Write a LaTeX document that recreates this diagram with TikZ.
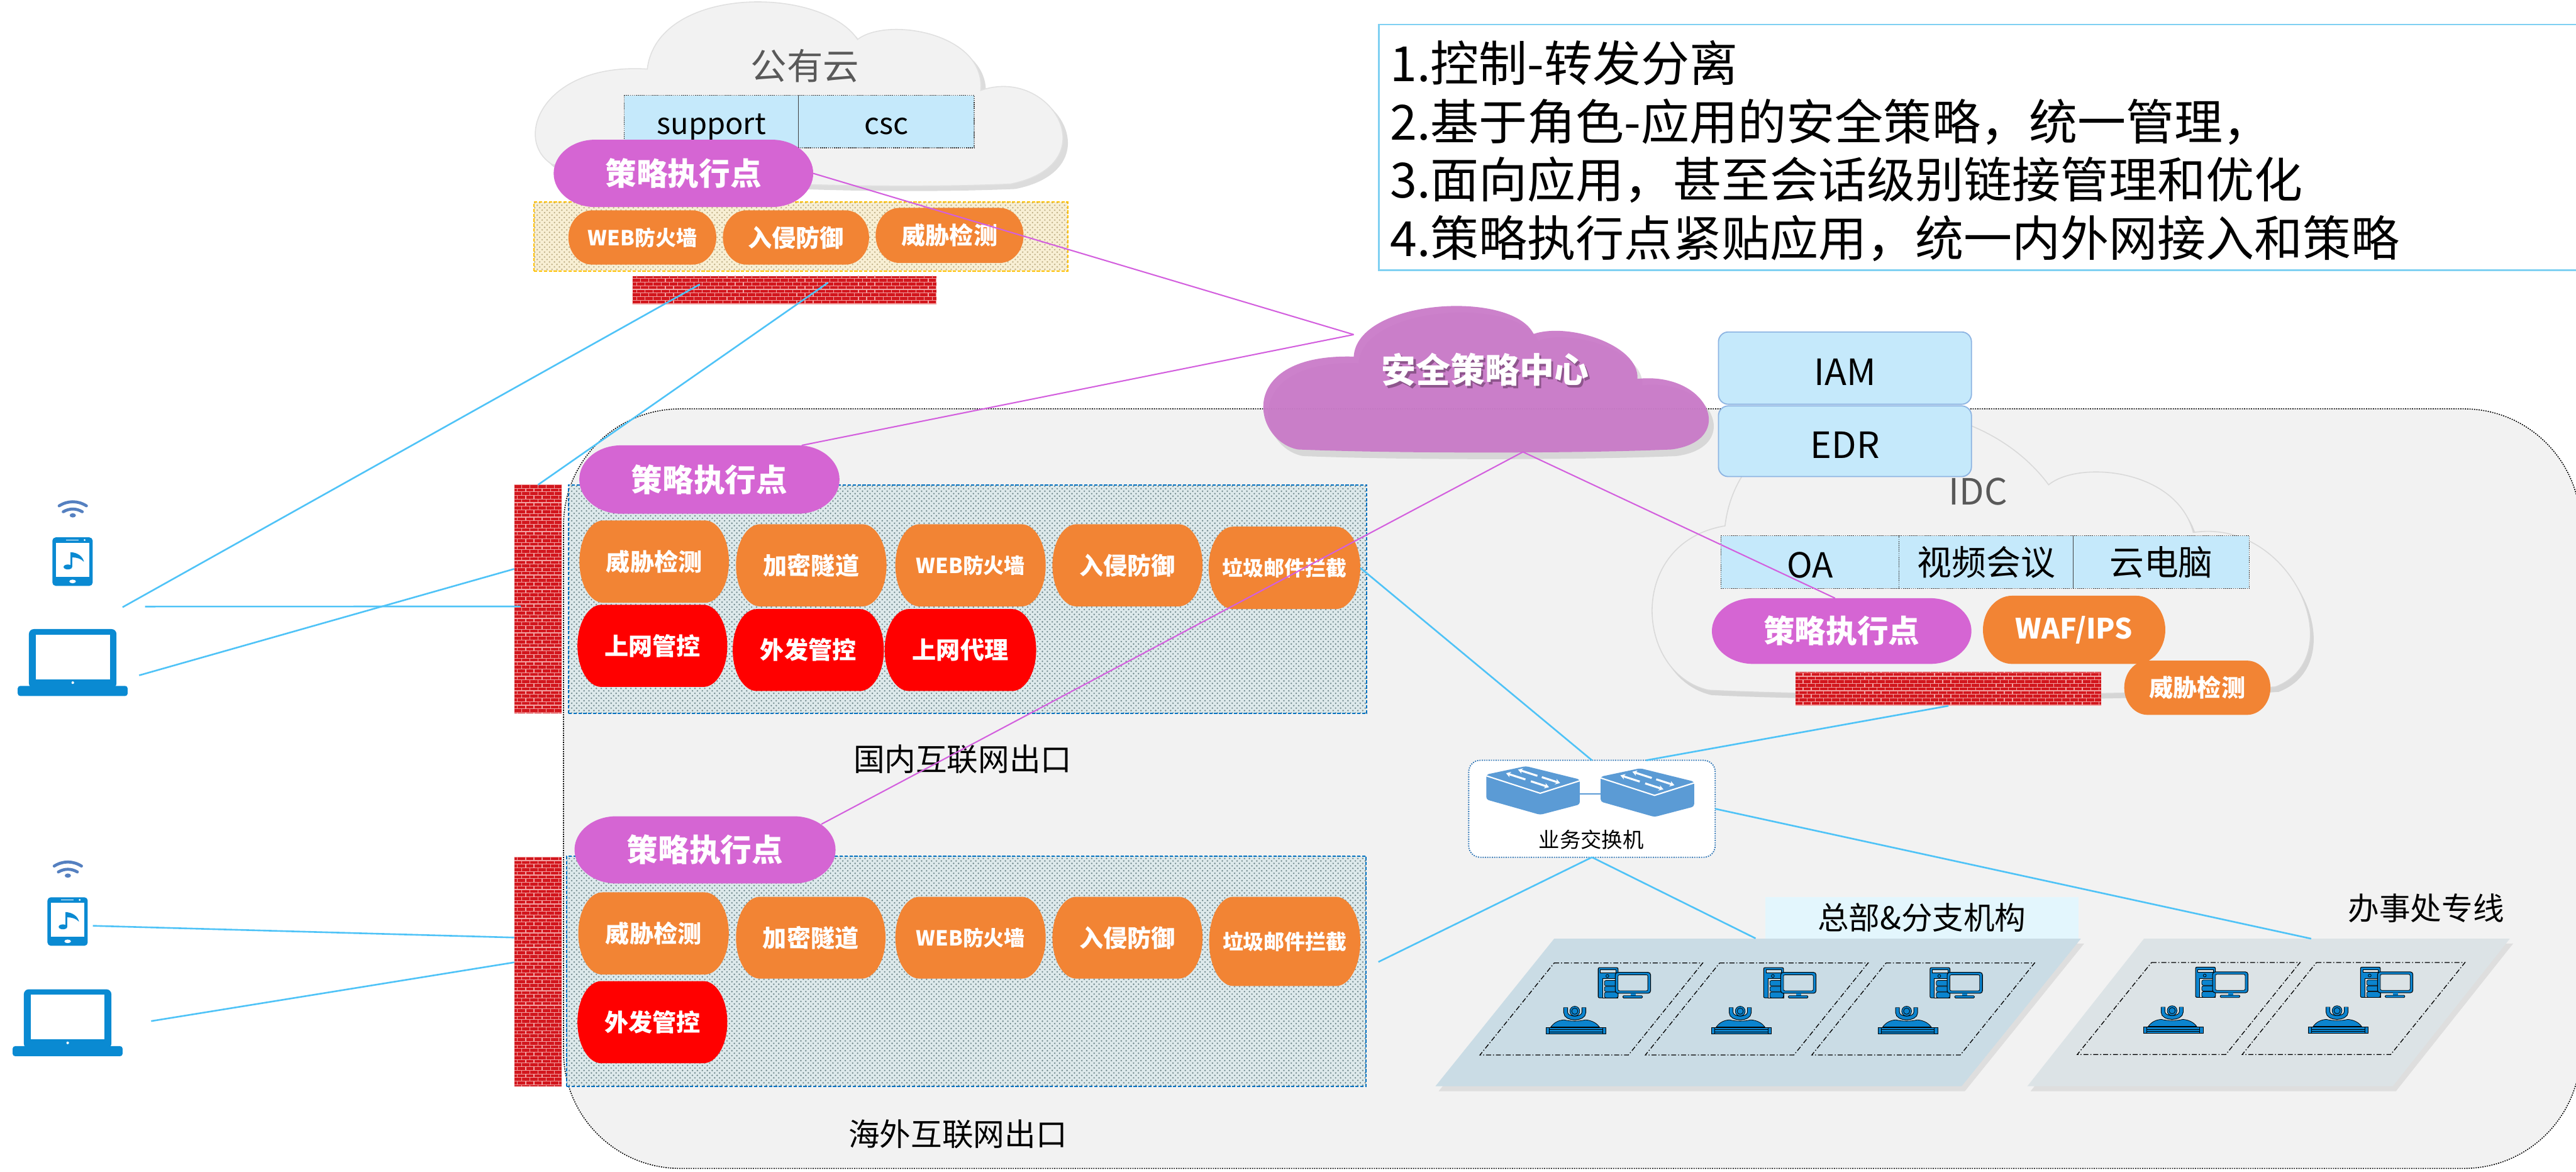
\documentclass[tikz,border=0pt]{standalone}
\usepackage{fontspec}
\setmainfont{Noto Sans CJK SC}
\usetikzlibrary{arrows.meta,patterns,calc}

% small brick texture for the firewalls
\pgfdeclarepatternformonly{smallbricks}{\pgfpoint{-0.5pt}{-0.5pt}}{\pgfpoint{5.5pt}{5pt}}{\pgfpoint{5pt}{4.4pt}}{%
  \pgfsetlinewidth{0.45pt}%
  \pgfpathmoveto{\pgfpoint{0pt}{0pt}}\pgfpathlineto{\pgfpoint{5pt}{0pt}}%
  \pgfpathmoveto{\pgfpoint{0pt}{2.2pt}}\pgfpathlineto{\pgfpoint{5pt}{2.2pt}}%
  \pgfpathmoveto{\pgfpoint{0pt}{0pt}}\pgfpathlineto{\pgfpoint{0pt}{2.2pt}}%
  \pgfpathmoveto{\pgfpoint{2.5pt}{2.2pt}}\pgfpathlineto{\pgfpoint{2.5pt}{4.4pt}}%
  \pgfusepath{stroke}}

\definecolor{regionfill}{HTML}{F2F2F2}
\definecolor{cloudfill}{HTML}{F2F2F2}
\definecolor{pepc}{HTML}{D565D3}
\definecolor{orgc}{HTML}{F28434}
\definecolor{redc}{HTML}{FF0000}
\definecolor{secc}{HTML}{C97AC8}
\definecolor{lblue}{HTML}{C5E9FB}
\definecolor{iamedge}{HTML}{8DB4E2}
\definecolor{linkb}{HTML}{4FC3F7}
\definecolor{linkp}{HTML}{D35FDE}
\definecolor{devb}{HTML}{0A8AD2}
\definecolor{wifib}{HTML}{5580C0}
\definecolor{swb}{HTML}{5B9BD5}
\definecolor{pcb}{HTML}{0B84CF}
\definecolor{brickc}{HTML}{D2161D}
\definecolor{mortar}{HTML}{F2A1A1}
\definecolor{hqfill}{HTML}{CADCE5}
\definecolor{offfill}{HTML}{DCE3E6}
\definecolor{hqlabel}{HTML}{E3F6FD}
\definecolor{exitfill}{HTML}{DDE9EB}
\definecolor{exitdot}{HTML}{6F878B}
\definecolor{exitedge}{HTML}{0070C0}
\definecolor{yelfill}{HTML}{F8EFD4}
\definecolor{yeldot}{HTML}{BDAE84}
\definecolor{yeledge}{HTML}{FFC000}
\definecolor{notebox}{HTML}{7FD0F2}
\definecolor{labelgray}{HTML}{595959}
\definecolor{swedge}{HTML}{2E75B6}

% terminator-shaped box with a named node on top of it
\newcommand\pillbox[8]{%
  \pgfmathsetmacro\qqa{#3}\pgfmathsetmacro\qqb{#4}%
  \pgfmathsetmacro\qqc{#5}\pgfmathsetmacro\qqd{#6}%
  \pgfmathsetmacro\qqrx{0.16*(\qqc-\qqa)}%
  \pgfmathsetmacro\qqry{(\qqd-\qqb)/2}%
  \pgfmathsetmacro\qqym{(\qqb+\qqd)/2}%
  \pgfmathsetmacro\qqxm{(\qqa+\qqc)/2}%
  \pgfmathsetmacro\qqxl{\qqa+\qqrx}%
  \pgfmathsetmacro\qqxr{\qqc-\qqrx}%
  \pgfmathsetmacro\qqkx{0.5523*\qqrx}%
  \pgfmathsetmacro\qqky{0.5523*\qqry}%
  \pgfmathsetmacro\qqw{\qqc-\qqa}%
  \pgfmathsetmacro\qqh{\qqd-\qqb}%
  \fill[#2] (\qqxl,\qqb) -- (\qqxr,\qqb)
    .. controls (\qqxr+\qqkx,\qqb) and (\qqc,\qqym-\qqky) .. (\qqc,\qqym)
    .. controls (\qqc,\qqym+\qqky) and (\qqxr+\qqkx,\qqd) .. (\qqxr,\qqd)
    -- (\qqxl,\qqd)
    .. controls (\qqxl-\qqkx,\qqd) and (\qqa,\qqym+\qqky) .. (\qqa,\qqym)
    .. controls (\qqa,\qqym-\qqky) and (\qqxl-\qqkx,\qqb) .. (\qqxl,\qqb) -- cycle;
  \node[#7, minimum width=\qqw pt, minimum height=\qqh pt, inner sep=0pt, outer sep=0pt] (#1) at (\qqxm,\qqym) {#8};%
}

% cloud outlines
\def\pubcloud{(336,100) .. controls (312,85) and (330,38) .. (394,42)
  .. controls (400,-9) and (500,-9) .. (522,24)
  .. controls (540,10) and (600,20) .. (597,55)
  .. controls (640,40) and (675,100) .. (615,112)
  .. controls (520,116) and (400,110) .. (336,100) -- cycle}
\def\seccloud{(790,273.5) .. controls (762,268) and (752,215) .. (824,217)
  .. controls (826,182) and (920,176) .. (933.5,203.2)
  .. controls (955,196) and (998,210) .. (996.7,230.5)
  .. controls (1040,226) and (1058,268) .. (1017.5,273.5)
  .. controls (960,276) and (850,276) .. (790,273.5) -- cycle}
\def\idccloud{(1040,420) .. controls (995,410) and (990,330) .. (1050,320)
  .. controls (1060,235) and (1195,225) .. (1247,295)
  .. controls (1265,280) and (1325,285) .. (1335,324)
  .. controls (1395,315) and (1432,400) .. (1385,418)
  .. controls (1300,424) and (1120,424) .. (1040,420) -- cycle}

\tikzset{
  pepfill/.style={fill=pepc},
  orgfill/.style={fill=orgc},
  redfill/.style={fill=redc},
  peptxt/.style={text=white, font=\fontsize{19}{22}\selectfont\bfseries},
  orgtxt/.style={text=white, font=\fontsize{14.6}{17}\selectfont\bfseries},
  orgsmall/.style={text=white, font=\fontsize{12.6}{15}\selectfont\bfseries},
  wafips/.style={text=white, font=\fontsize{17}{20}\selectfont\bfseries},
  fwall/.style={inner sep=0pt, outer sep=0pt, preaction={fill=brickc}, pattern=smallbricks, pattern color=mortar},
  exitbox/.style={inner sep=0pt, outer sep=0pt, draw=exitedge, line width=0.8pt, dash pattern=on 2pt off 1pt,
    preaction={fill=exitfill}, pattern=crosshatch dots, pattern color=exitdot},
  yelbox/.style={inner sep=0pt, outer sep=0pt, draw=yeledge, line width=0.8pt, dash pattern=on 2pt off 1pt,
    preaction={fill=yelfill}, pattern=crosshatch dots, pattern color=yeldot},
  appbox/.style={inner sep=0pt, outer sep=0pt, fill=lblue, draw=black!75, line width=0.5pt,
    dash pattern=on 0.6pt off 0.6pt},
  apptxt/.style={inner sep=0pt, font=\fontsize{21}{24}\selectfont},
  iambox/.style={inner sep=0pt, outer sep=0pt, fill=lblue, draw=iamedge, line width=0.7pt, rounded corners=6pt},
  iamtxt/.style={inner sep=0pt, font=\fontsize{22}{25}\selectfont},
  notetxt/.style={anchor=base west, inner sep=0pt, font=\fontsize{29.5}{35}\selectfont},
  bluelink/.style={draw=linkb, line width=1pt},
  purplelink/.style={draw=linkp, line width=0.8pt},
  bigtxt/.style={font=\fontsize{19}{22}\selectfont},
  graytitle/.style={text=labelgray, font=\fontsize{22}{25}\selectfont},
  cloudshadow/.style={fill=black!30, opacity=0.45},
  cellline/.style={draw=black, line width=0.5pt, dash pattern=on 3pt off 1.2pt on 0.6pt off 1.2pt},
  % handset with a music note on the screen
  pics/phone/.style={code={
    \fill[devb, rounded corners=2pt] (0,0) rectangle (24.5,29.5);
    \fill[white] (2,3.3) rectangle (22.3,23.9);
    \draw[white, line width=0.6pt] (8.3,1.6) -- (16,1.6);
    \fill[white] (19.6,1.6) circle (0.6);
    \fill[white] (12.3,26.8) ellipse (2 and 1.1);
    \fill[devb] (9.4,18) ellipse (2.6 and 1.5);
    \draw[devb, line width=1.1pt] (11.5,18) -- (11.5,9.2);
    \fill[devb] (11,9.0) .. controls (15.5,9.2) and (18.6,11.8) .. (19.2,14.9)
       .. controls (17.5,13) and (15,12.2) .. (12,12.2) -- cycle;
  }},
  % notebook computer
  pics/laptop/.style={code={
    \fill[devb, rounded corners=3pt] (0,0) rectangle (53.3,36);
    \fill[white] (4.1,3.4) rectangle (49.2,30.5);
    \fill[devb, rounded corners=1.5pt] (-6.8,34.6) rectangle (60.1,40.7);
    \fill[white] (26.7,32.6) circle (0.8);
  }},
  % wireless signal
  pics/wifi/.style={code={
    \draw[wifib, line width=1.8pt, line cap=round] (-8.3,-5.8) .. controls (-3,-9.1) and (3,-9.1) .. (8.3,-5.8);
    \draw[wifib, line width=1.8pt, line cap=round] (-5.8,-2.2) .. controls (-2,-4.4) and (2,-4.4) .. (5.8,-2.2);
    \fill[wifib] (0,0) ellipse (1.9 and 1.3);
  }},
  % switch drawn as a flat box with arrows on top
  pics/swcube/.style={code={
    \fill[swb, rounded corners=1.5pt] (0,0) -- (24.1,-5.1) -- (56.9,3.0) -- (56.9,18.2) -- (32.8,24.5) -- (0,15.2) -- cycle;
    \draw[white, line width=0.8pt] (0,0.8) -- (32.8,11.4) -- (56.9,3.8);
    \begin{scope}[white, line width=1.2pt, -{Stealth[length=2.8pt,width=3.4pt]}]
      \draw (31.1,0.8) -- (19.3,-3.0);
      \draw (33.8,1.6) -- (44.9,5.2);
      \draw (23.8,3.0) -- (12.0,-0.8);
      \draw (27.1,4.1) -- (38.2,7.7);
    \end{scope}
  }},
  % one site cell: dash-dot outline, desktop computer and video camera
  pics/sitecell/.style={code={
    \draw[cellline] (0,0) -- (90.4,0) -- (45.2,56) -- (-45.2,56) -- cycle;
    % tower
    \filldraw[fill=pcb, draw=black, line width=0.4pt, rounded corners=0.8pt] (26.8,2.8) rectangle (38.9,21.2);
    \filldraw[fill=#1, draw=black, line width=0.3pt] (28.2,4.2) rectangle (37.6,5.9);
    \filldraw[fill=#1, draw=black, line width=0.3pt] (29.4,9.6) rectangle (38.9,21.2);
    \filldraw[fill=pcb, draw=black, line width=0.3pt] (32.4,7.9) circle (0.9);
    \filldraw[fill=pcb, draw=black, line width=0.3pt, rounded corners=1pt] (30.6,10.6) rectangle (38.9,13.9);
    \filldraw[fill=pcb, draw=black, line width=0.3pt, rounded corners=1pt] (30.6,14.2) rectangle (38.9,17.4);
    \filldraw[fill=pcb, draw=black, line width=0.3pt, rounded corners=1pt] (30.6,17.7) rectangle (38.9,21.2);
    % monitor
    \filldraw[fill=pcb, draw=black, line width=0.4pt, rounded corners=1.5pt] (37.2,5.7) rectangle (58.7,18.4);
    \filldraw[fill=#1, draw=black, line width=0.3pt, rounded corners=0.8pt] (38.9,7.2) rectangle (57,16.9);
    \fill[pcb] (46.5,18.4) rectangle (49.6,19.9);
    \filldraw[fill=pcb, draw=black, line width=0.3pt, rounded corners=0.5pt] (41.8,19.9) rectangle (53.8,21.3);
    % camera
    \draw[black, line width=2.7pt] (7,27) -- (7,30) .. controls (7,34.6) and (18.1,34.6) .. (18.1,30) -- (18.1,27);
    \draw[pcb, line width=1.9pt] (7,27.2) -- (7,30) .. controls (7,34.6) and (18.1,34.6) .. (18.1,30) -- (18.1,27.2);
    \filldraw[fill=pcb, draw=black, line width=0.3pt] (12.55,29.3) circle (3.0);
    \filldraw[fill=pcb, draw=black, line width=0.3pt] (12.55,29.3) circle (1.9);
    \filldraw[fill=pcb, draw=black, line width=0.3pt] (-2,38.9) .. controls (0,36) and (3,34.8) .. (6,34.6)
       .. controls (10,35.6) and (15,35.6) .. (19,34.6) .. controls (22,34.8) and (25.5,36) .. (27.5,38.9) -- cycle;
    \filldraw[fill=pcb, draw=black, line width=0.3pt] (-2.9,39.3) rectangle (29.4,43.2);
    \draw[black, line width=0.3pt] (-2.9,40.6) -- (29.4,40.6) (-2.9,41.9) -- (29.4,41.9);
    \filldraw[fill=pcb, draw=black, line width=0.3pt] (-4.9,39.3) rectangle (-2.9,43.2);
    \filldraw[fill=pcb, draw=black, line width=0.3pt] (29.4,39.3) rectangle (31.4,43.2);
  }}
}

\begin{document}
\begin{tikzpicture}[x=1pt,y=-1pt]
\useasboundingbox (0,0) rectangle (1568,712.9);
\clip (0,0) rectangle (1568,712.9);

% ---------- enterprise area ----------
\filldraw[fill=regionfill, draw=black, line width=0.6pt, dash pattern=on 0.7pt off 0.7pt, rounded corners=71pt]
  (343,248.8) rectangle (1570.7,711);

% ---------- public cloud ----------
\fill[cloudshadow, shift={(3,3)}] \pubcloud;
\filldraw[fill=cloudfill, draw=black!12, line width=0.6pt] \pubcloud;
\node[graytitle] (pubtitle) at (490,40) {公有云};
\node[appbox, minimum width=106, minimum height=32] (sup) at (433,74) {};
\node[appbox, minimum width=107, minimum height=32] (csc) at (539.5,74) {};
\node[apptxt, font=\fontsize{18}{21}\selectfont] (suptxt) at ([yshift=-3.5pt]sup.center) {support};
\node[apptxt, font=\fontsize{18}{21}\selectfont] (csctxt) at ([yshift=-3pt]csc.center) {csc};

\node[yelbox, minimum width=325, minimum height=42] (boxTop) at (487.5,144) {};
\pillbox{pepTop}{pepfill}{337}{85}{495}{126}{peptxt}{策略执行点}
\pillbox{wafTop}{orgfill}{346}{128}{436}{161}{orgsmall}{WEB防火墙}
\pillbox{ipsTop}{orgfill}{440}{128}{529}{161}{orgtxt}{入侵防御}
\pillbox{tdTop}{orgfill}{533}{126.5}{623}{160}{orgtxt}{威胁检测}
\node[fwall, minimum width=185, minimum height=17] (fwTop) at (477.5,176.5) {};

% ---------- IDC ----------
\fill[cloudshadow, shift={(2,3)}] \idccloud;
\filldraw[fill=cloudfill, draw=black!15, line width=0.6pt] \idccloud;

% ---------- security policy centre ----------
\fill[fill=black!35, opacity=0.35, shift={(3,4)}] \seccloud;
\fill[secc, opacity=0.95] \seccloud;
\coordinate (secL) at (824,203.6);
\coordinate (secB) at (927,275);
\node[text=secc!70!black, font=\fontsize{21}{24}\selectfont\bfseries] (secsh) at (905.2,226.6) {安全策略中心};
\node[text=white, font=\fontsize{21}{24}\selectfont\bfseries] (sec) at (904,225) {安全策略中心};

\node[iambox, minimum width=154, minimum height=44] (iam) at (1123,224) {};
\node[iambox, minimum width=154, minimum height=43] (edr) at (1123,268.5) {};
\node[iamtxt] (iamtxt) at ([yshift=-2.5pt]iam.center) {IAM};
\node[iamtxt] (edrtxt) at ([yshift=-2.5pt]edr.center) {EDR};

\node[graytitle] (idctitle) at (1204,299) {IDC};
\node[appbox, minimum width=108.5, minimum height=32] (oa) at (1101.75,342) {};
\node[appbox, minimum width=106, minimum height=32] (vc) at (1209,342) {};
\node[appbox, minimum width=107, minimum height=32] (vdi) at (1315.5,342) {};
\node[apptxt] (oatxt) at ([yshift=-2pt]oa.center) {OA};
\node[apptxt] (vctxt) at (vc.center) {视频会议};
\node[apptxt] (vditxt) at (vdi.center) {云电脑};
\pillbox{pepIdc}{pepfill}{1042}{364}{1200}{404}{peptxt}{策略执行点}
\pillbox{wafIdc}{orgfill}{1207}{362.5}{1318}{404}{wafips}{WAF/IPS}
\node[fwall, minimum width=186, minimum height=20.5] (fwIdc) at (1186,419.25) {};
\pillbox{tdIdc}{orgfill}{1293}{402}{1382}{435}{orgtxt}{威胁检测}

% ---------- notes ----------
\draw[notebox, line width=1pt] (839.4,15) rectangle (1580,164.4);
\node[notetxt] (note1) at (846,49.5) {1.控制-转发分离};
\node[notetxt] (note2) at (846,85) {2.基于角色-应用的安全策略，统一管理，};
\node[notetxt] (note3) at (846,120.5) {3.面向应用，甚至会话级别链接管理和优化};
\node[notetxt] (note4) at (846,156) {4.策略执行点紧贴应用，统一内外网接入和策略};

% ---------- domestic internet exit ----------
\node[exitbox, minimum width=486, minimum height=139] (boxDom) at (589,364.5) {};
\node[fwall, minimum width=29, minimum height=139] (fwDom) at (327.5,364.5) {};
\pillbox{pepDom}{pepfill}{352.6}{271}{511}{312.6}{peptxt}{策略执行点}
\pillbox{tdDom}{orgfill}{352.7}{316.7}{443.7}{366.8}{orgtxt}{威胁检测}
\pillbox{vpnDom}{orgfill}{448}{319}{539.6}{369}{orgtxt}{加密隧道}
\pillbox{wafDom}{orgfill}{545}{319}{636.5}{369}{orgsmall}{WEB防火墙}
\pillbox{ipsDom}{orgfill}{640.6}{319}{732}{369}{orgtxt}{入侵防御}
\pillbox{spamDom}{orgfill}{735.7}{320.5}{828}{370.6}{orgsmall}{垃圾邮件拦截}
\pillbox{webctlDom}{redfill}{351.5}{368}{442.7}{418}{orgtxt}{上网管控}
\pillbox{outctlDom}{redfill}{446}{370.6}{538}{420.5}{orgtxt}{外发管控}
\pillbox{proxyDom}{redfill}{538.5}{370.6}{630.7}{420.5}{orgtxt}{上网代理}
\node[bigtxt] (domlbl) at (586,462) {国内互联网出口};

% ---------- overseas internet exit ----------
\node[exitbox, minimum width=486.5, minimum height=140] (boxOv) at (588.25,591) {};
\node[fwall, minimum width=29, minimum height=139.4] (fwOv) at (327.5,591.3) {};
\pillbox{pepOv}{pepfill}{349.7}{496.7}{508.6}{537.6}{peptxt}{策略执行点}
\pillbox{tdOv}{orgfill}{352}{543}{443.6}{593}{orgtxt}{威胁检测}
\pillbox{vpnOv}{orgfill}{448}{545.7}{539}{595.5}{orgtxt}{加密隧道}
\pillbox{wafOv}{orgfill}{545}{545.7}{636.5}{595.5}{orgsmall}{WEB防火墙}
\pillbox{ipsOv}{orgfill}{640.6}{545.7}{732}{595.5}{orgtxt}{入侵防御}
\pillbox{spamOv}{orgfill}{736}{545.7}{828}{600}{orgsmall}{垃圾邮件拦截}
\pillbox{outctlOv}{redfill}{351.5}{597}{442.7}{647}{orgtxt}{外发管控}
\node[bigtxt] (ovlbl) at (583,690) {海外互联网出口};

% ---------- business switch ----------
\node[inner sep=0pt, outer sep=0pt, minimum width=150, minimum height=59, fill=white, draw=swedge,
  line width=0.7pt, dash pattern=on 0.7pt off 0.7pt, rounded corners=7pt] (sw) at (969,492.15) {};
\draw[swb, line width=0.6pt] (961.6,483.2) -- (974.3,483.2);
\pic at (904.7,471.3) {swcube};
\pic at (974.3,472.6) {swcube};
\node[font=\fontsize{12.8}{15}\selectfont] (swlbl) at (968.6,511) {业务交换机};

% ---------- headquarters & branches / offices ----------
\fill[black!30, opacity=0.3, shift={(2,3)}] (946,571.2) -- (1266.6,571.2) -- (1194,661) -- (873.7,661) -- cycle;
\fill[hqfill] (946,571.2) -- (1266.6,571.2) -- (1194,661) -- (873.7,661) -- cycle;
\fill[black!30, opacity=0.3, shift={(2,3)}] (1305,571.2) -- (1527.7,571.2) -- (1456.4,661) -- (1234,661) -- cycle;
\fill[offfill] (1305,571.2) -- (1527.7,571.2) -- (1456.4,661) -- (1234,661) -- cycle;
\node[fill=hqlabel, inner sep=0pt, outer sep=0pt, minimum width=190.4, minimum height=25,
  font=\fontsize{19}{22}\selectfont] (hqlbl) at (1169.8,558.5) {总部\&分支机构};
\node[bigtxt] (offlbl) at (1476.7,552.6) {办事处专线};
\coordinate (offTop) at (1406.8,571.2);
\pic at (946,586) {sitecell=hqfill};
\pic at (1046.7,586) {sitecell=hqfill};
\pic at (1148,586) {sitecell=hqfill};
\pic at (1309.6,585.7) {sitecell=offfill};
\pic at (1410,585.7) {sitecell=offfill};

% ---------- terminals ----------
\pic at (44.3,313.6) {wifi};
\pic at (31.9,327) {phone};
\pic at (17.6,382.8) {laptop};
\node[inner sep=0pt, outer sep=0pt, minimum width=24.5, minimum height=29.5] (ph1) at (44.15,341.75) {};
\node[inner sep=0pt, outer sep=0pt, minimum width=66.9, minimum height=40.7] (lap1) at (44.25,403.15) {};
\pic at (41.3,532.8) {wifi};
\pic at (28.9,546) {phone};
\pic at (14.5,602) {laptop};
\node[inner sep=0pt, outer sep=0pt, minimum width=24.5, minimum height=29.5] (ph2) at (41.15,560.75) {};
\node[inner sep=0pt, outer sep=0pt, minimum width=66.9, minimum height=40.7] (lap2) at (41.15,622.35) {};

% ---------- links ----------
\draw[bluelink] ([xshift=-3.1pt,yshift=13.3pt]lap1.north east) -- ([xshift=41pt,yshift=-5pt]fwTop.north west);
\draw[bluelink] (fwDom.north) -- ([xshift=119pt,yshift=-4pt]fwTop.north west);
\draw[bluelink] ([xshift=10.6pt,yshift=13.7pt]lap1.north east) -- ([xshift=4pt,yshift=-4.5pt]fwDom.west);
\draw[bluelink] ([xshift=7pt,yshift=-7.8pt]lap1.east) -- ([yshift=18.3pt]fwDom.west);
\draw[bluelink] ([xshift=3.1pt,yshift=-2.6pt]ph2.east) -- ([yshift=20.8pt]fwOv.west);
\draw[bluelink] ([xshift=17.4pt,yshift=1pt]lap2.east) -- ([yshift=5.7pt]fwOv.west);
\draw[bluelink] (spamDom.east) -- (sw.north);
\draw[bluelink] ([xshift=33pt]sw.north) -- (fwIdc.south);
\draw[bluelink] (sw.east) -- (offTop);
\draw[bluelink] (sw.south) -- ([xshift=11pt,yshift=-12.5pt]spamOv.east);
\draw[bluelink] (sw.south) -- ([xshift=-6pt]hqlbl.south west);

\draw[purplelink] (pepTop.east) -- (secL);
\draw[purplelink] ([xshift=-23pt]pepDom.north east) -- (secL);
\draw[purplelink] (secB) -- ([xshift=-8.6pt,yshift=-4.8pt]pepOv.north east);
\draw[purplelink] (secB) -- ([xshift=-4pt]pepIdc.north);
\end{tikzpicture}
\end{document}
